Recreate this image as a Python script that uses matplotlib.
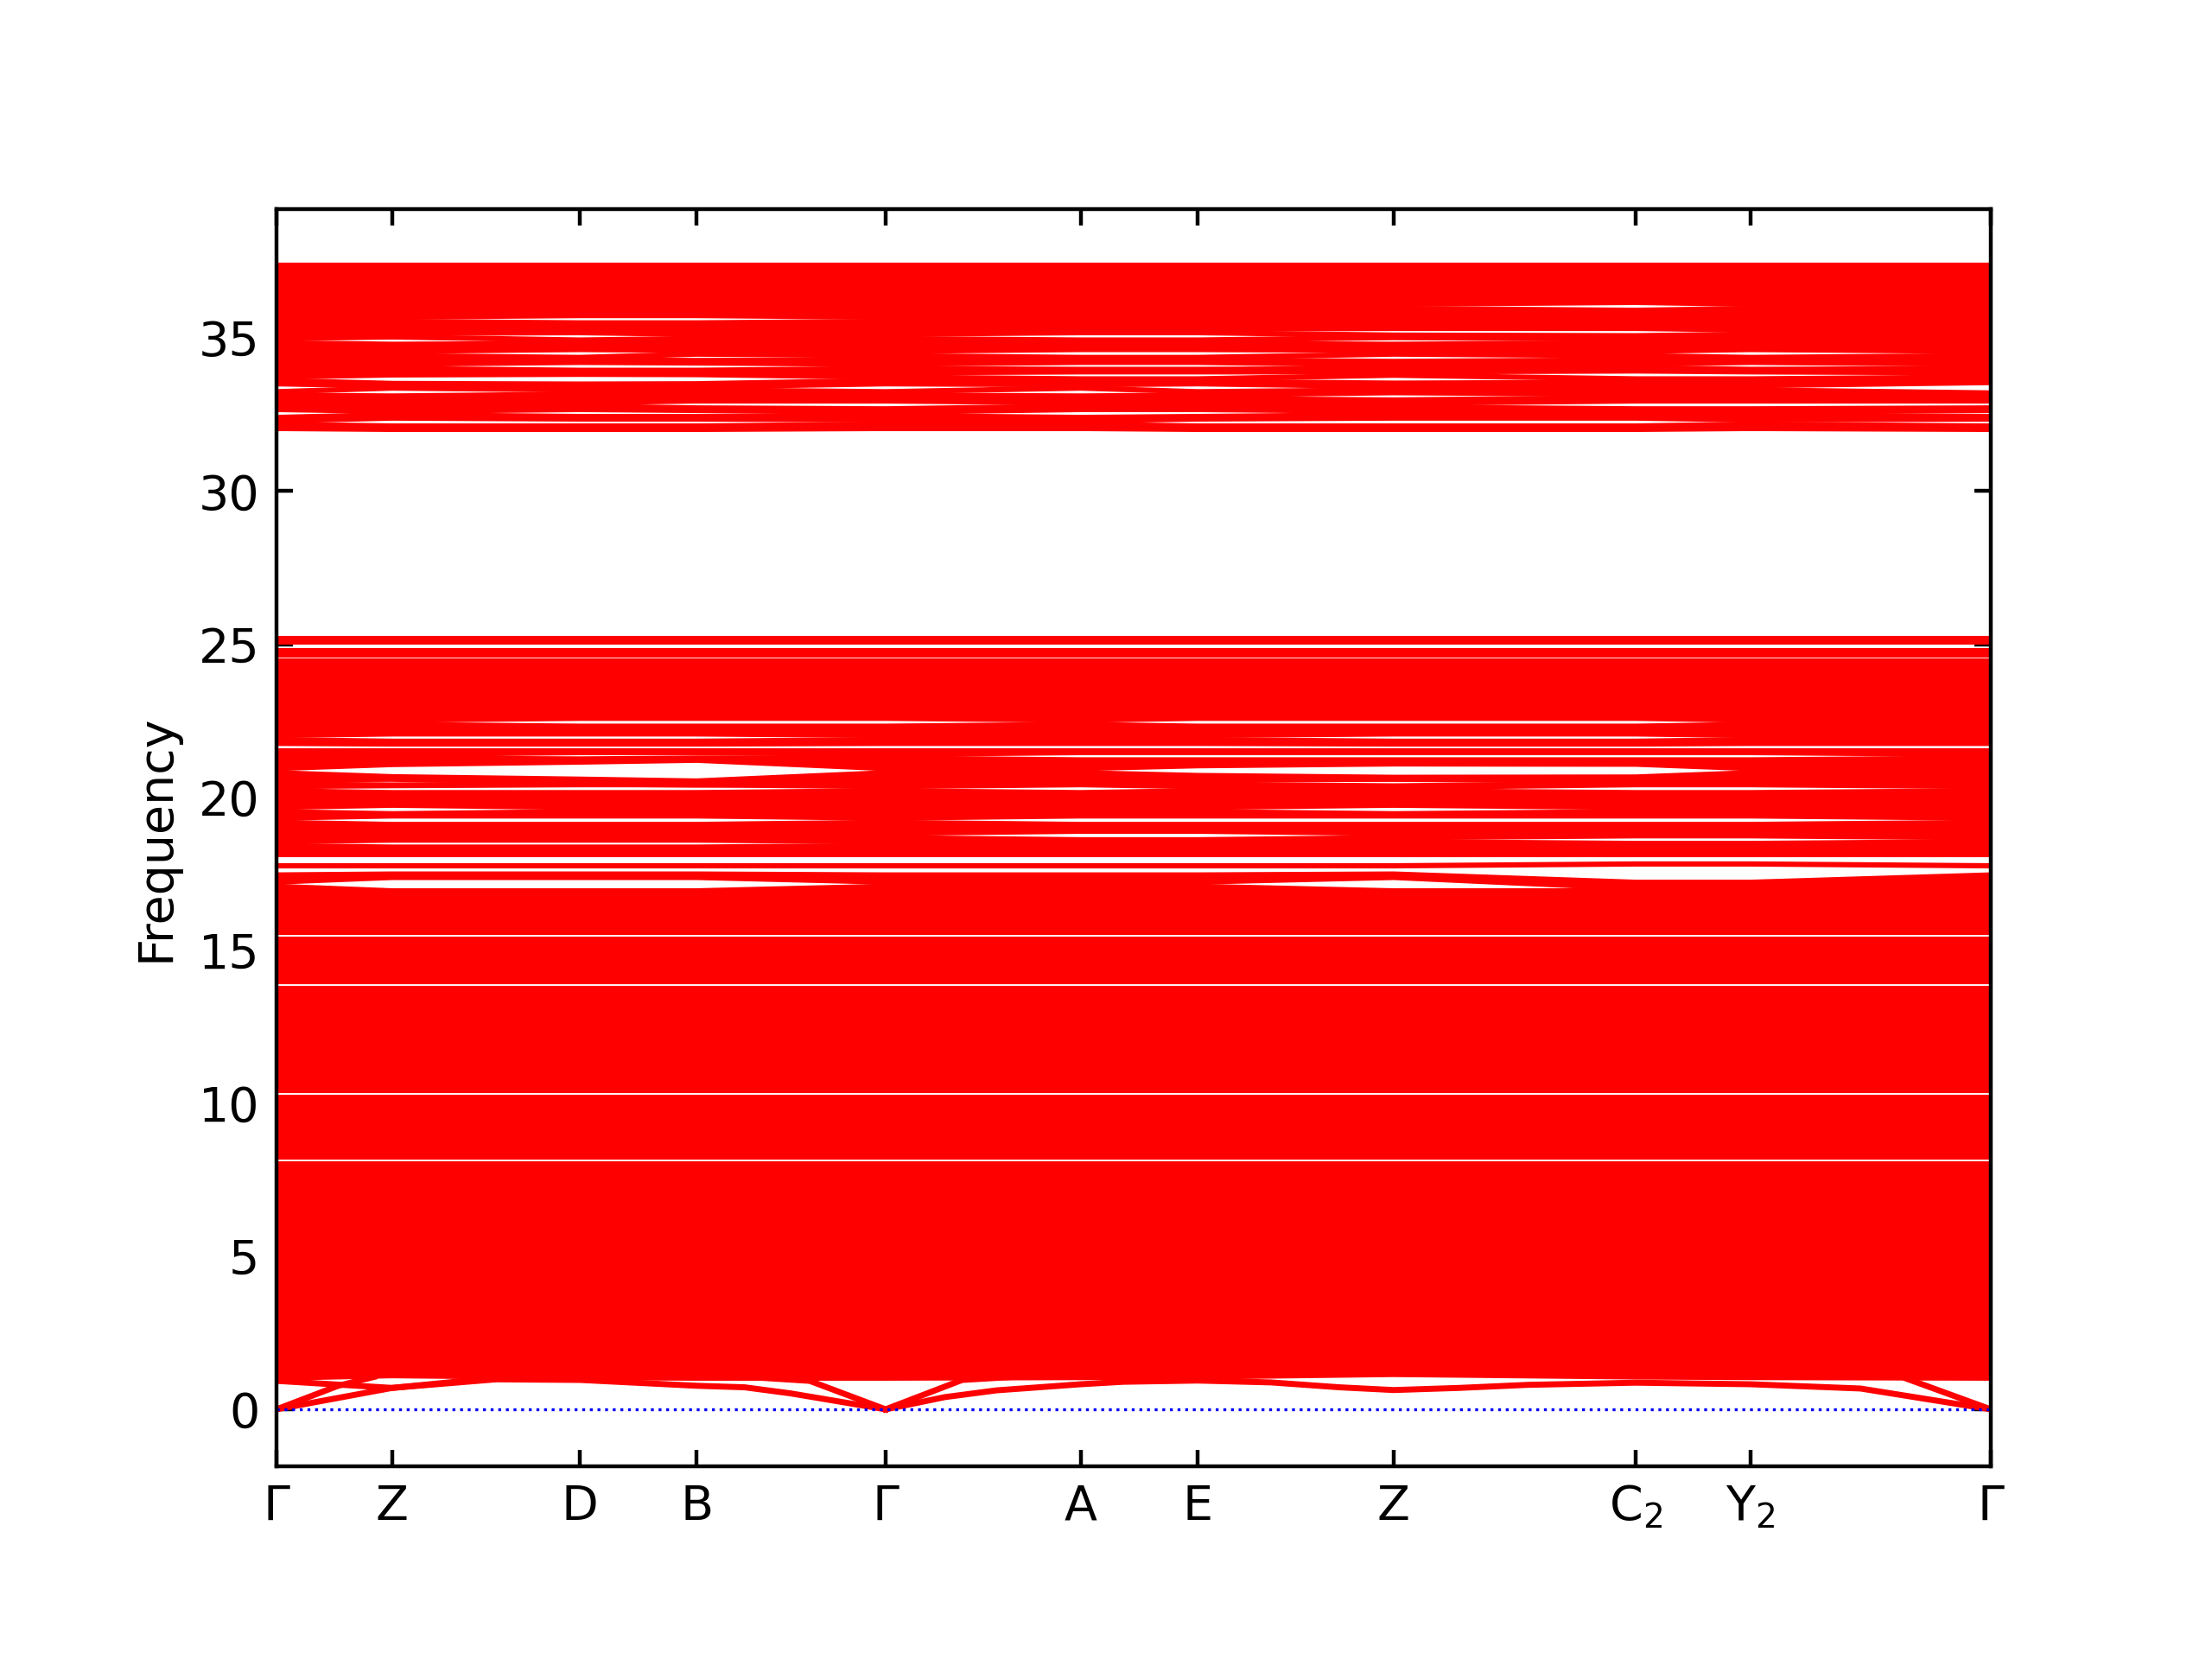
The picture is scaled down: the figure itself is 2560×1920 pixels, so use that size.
import matplotlib.pyplot as plt

# high-symmetry points along the path (fraction of total path length)
kpos = [0.0, 0.0675, 0.1769, 0.245, 0.3553, 0.4692, 0.5373, 0.6517, 0.7929, 0.8599, 1.0]
klabels = ['$\\Gamma$', 'Z', 'D', 'B', '$\\Gamma$', 'A', 'E', 'Z', 'C$_2$', 'Y$_2$', '$\\Gamma$']

# branches that look flat along the whole path
flat_bands = [
    37.37, 37.23, 37.09, 36.95, 36.81, 36.67, 36.53, 36.39,
    25.19, 25.08, 24.80, 24.66, 24.46, 24.32, 24.18, 24.04, 23.90, 23.76,
    23.62, 23.48, 23.34, 23.20, 23.06, 22.93, 22.80, 21.52, 19.95, 18.14,
    16.70, 16.56, 16.42, 16.28, 16.14, 16.00, 15.86, 15.72, 15.58, 15.36,
    15.23, 15.10, 14.96, 14.82, 14.68, 14.54, 14.40, 14.26, 14.12, 13.98,
    13.76, 13.63, 13.50, 13.36, 13.22, 13.08, 12.94, 12.80, 12.66, 12.52,
    12.38, 12.24, 12.10, 11.96, 11.82, 11.68, 11.54, 11.40, 11.26, 11.12,
    10.98, 10.84, 10.70, 10.56, 10.42, 10.18, 10.05, 9.92, 9.78, 9.64,
    9.50, 9.36, 9.22, 9.08, 8.94, 8.80, 8.66, 8.52, 8.38, 8.24, 8.02,
    7.89, 7.76, 7.62, 7.48, 7.34, 7.20, 7.06, 6.92, 6.78, 6.64, 6.50,
    6.36, 6.22, 6.08, 5.94, 5.80, 5.66, 5.52, 5.38, 5.24, 5.10, 4.96,
    4.82, 4.68, 4.54, 4.40, 4.26, 4.12, 3.98, 3.84, 3.70, 3.56, 3.42,
    3.28, 3.14, 3.00, 2.86, 2.72, 2.58, 2.44, 2.30, 2.16, 2.02, 1.88,
    1.74, 1.60, 1.46, 1.32, 1.18,
]

# upper optical block, values at each high-symmetry point
upper_bands = [
    [36.25, 36.25, 36.25, 36.25, 36.25, 36.25, 36.25, 36.25, 36.28, 36.25, 36.25],
    [36.11, 36.11, 36.11, 36.11, 36.11, 36.11, 36.11, 36.11, 36.17, 36.11, 36.11],
    [35.97, 35.97, 35.97, 35.97, 35.97, 35.97, 35.97, 35.97, 35.91, 35.97, 35.97],
    [35.83, 35.83, 35.86, 35.86, 35.83, 35.83, 35.83, 35.83, 35.80, 35.83, 35.83],
    [35.69, 35.69, 35.74, 35.74, 35.69, 35.69, 35.69, 35.69, 35.69, 35.69, 35.69],
    [35.55, 35.55, 35.50, 35.50, 35.55, 35.55, 35.55, 35.55, 35.55, 35.55, 35.55],
    [35.41, 35.41, 35.39, 35.39, 35.41, 35.41, 35.41, 35.44, 35.44, 35.41, 35.41],
    [35.27, 35.27, 35.30, 35.27, 35.27, 35.30, 35.30, 35.32, 35.32, 35.27, 35.27],
    [35.13, 35.16, 35.18, 35.13, 35.13, 35.18, 35.18, 35.10, 35.08, 35.13, 35.13],
    [34.99, 35.04, 34.94, 34.99, 34.99, 34.94, 34.94, 35.02, 34.97, 34.99, 34.99],
    [34.85, 34.80, 34.83, 34.85, 34.85, 34.83, 34.83, 34.80, 34.85, 34.85, 34.85],
    [34.71, 34.69, 34.74, 34.71, 34.71, 34.74, 34.74, 34.69, 34.71, 34.74, 34.71],
    [34.57, 34.57, 34.63, 34.60, 34.57, 34.63, 34.63, 34.60, 34.57, 34.63, 34.57],
    [34.43, 34.43, 34.37, 34.48, 34.43, 34.37, 34.37, 34.48, 34.43, 34.37, 34.43],
    [34.29, 34.29, 34.29, 34.27, 34.29, 34.29, 34.29, 34.24, 34.29, 34.29, 34.29],
    [34.15, 34.15, 34.21, 34.19, 34.15, 34.21, 34.21, 34.13, 34.15, 34.21, 34.15],
    [34.01, 34.01, 33.95, 33.95, 34.01, 33.98, 33.98, 34.01, 34.04, 33.98, 34.01],
    [33.87, 33.91, 33.89, 33.88, 33.87, 33.90, 33.90, 33.90, 33.93, 33.90, 33.87],
    [33.73, 33.80, 33.82, 33.81, 33.73, 33.67, 33.67, 33.79, 33.67, 33.67, 33.73],
    [33.62, 33.52, 33.50, 33.51, 33.62, 33.56, 33.59, 33.53, 33.56, 33.56, 33.64],
    [33.51, 33.44, 33.41, 33.41, 33.51, 33.48, 33.51, 33.42, 33.45, 33.45, 33.55],
    [33.25, 33.37, 33.31, 33.31, 33.25, 33.37, 33.25, 33.31, 33.31, 33.31, 33.21],
    [33.14, 33.11, 33.17, 33.17, 33.14, 33.11, 33.14, 33.22, 33.17, 33.17, 33.12],
    [33.03, 33.00, 33.03, 33.06, 33.06, 33.00, 33.03, 32.98, 33.06, 33.06, 33.06],
    [32.89, 32.89, 32.89, 32.95, 32.95, 32.89, 32.89, 32.87, 32.95, 32.95, 32.95],
    [32.78, 32.75, 32.78, 32.72, 32.69, 32.78, 32.78, 32.75, 32.69, 32.69, 32.72],
    [32.67, 32.61, 32.67, 32.64, 32.58, 32.67, 32.67, 32.61, 32.58, 32.58, 32.64],
    [32.41, 32.50, 32.44, 32.44, 32.47, 32.41, 32.44, 32.50, 32.50, 32.47, 32.44],
    [32.30, 32.39, 32.36, 32.36, 32.33, 32.30, 32.36, 32.39, 32.39, 32.33, 32.36],
    [32.19, 32.13, 32.13, 32.13, 32.19, 32.19, 32.13, 32.13, 32.13, 32.19, 32.13],
    [32.05, 32.02, 32.02, 32.02, 32.05, 32.05, 32.02, 32.02, 32.02, 32.05, 32.02],
]

# lower block, branches with visible dispersion
lower_bands = [
    [22.66, 22.66, 22.69, 22.69, 22.69, 22.66, 22.69, 22.69, 22.69, 22.66, 22.66],
    [22.52, 22.52, 22.58, 22.58, 22.58, 22.52, 22.58, 22.58, 22.58, 22.52, 22.52],
    [22.38, 22.38, 22.32, 22.32, 22.32, 22.38, 22.32, 22.32, 22.32, 22.38, 22.38],
    [22.25, 22.25, 22.22, 22.22, 22.22, 22.25, 22.22, 22.22, 22.22, 22.25, 22.25],
    [22.13, 22.16, 22.16, 22.16, 22.13, 22.13, 22.13, 22.16, 22.16, 22.13, 22.13],
    [22.02, 22.07, 22.07, 22.07, 22.02, 22.02, 22.02, 22.07, 22.07, 22.02, 22.02],
    [21.88, 21.83, 21.83, 21.83, 21.88, 21.88, 21.88, 21.83, 21.83, 21.88, 21.88],
    [21.76, 21.74, 21.74, 21.74, 21.76, 21.76, 21.76, 21.74, 21.74, 21.76, 21.76],
    [21.40, 21.40, 21.46, 21.46, 21.40, 21.46, 21.46, 21.46, 21.46, 21.46, 21.40],
    [21.28, 21.28, 21.25, 21.28, 21.28, 21.22, 21.22, 21.22, 21.22, 21.22, 21.28],
    [21.16, 21.20, 21.21, 21.26, 21.16, 21.13, 21.13, 21.17, 21.17, 21.13, 21.16],
    [21.05, 21.13, 21.19, 21.25, 21.05, 21.05, 21.10, 21.14, 21.14, 21.05, 21.05],
    [20.94, 21.07, 21.15, 21.21, 20.94, 20.94, 21.03, 21.09, 21.08, 20.94, 20.94],
    [20.80, 20.67, 20.59, 20.53, 20.80, 20.80, 20.71, 20.65, 20.66, 20.80, 20.80],
    [20.66, 20.61, 20.52, 20.46, 20.66, 20.66, 20.61, 20.60, 20.57, 20.66, 20.66],
    [20.57, 20.59, 20.49, 20.44, 20.57, 20.57, 20.57, 20.59, 20.53, 20.57, 20.57],
    [20.43, 20.40, 20.43, 20.40, 20.43, 20.46, 20.43, 20.37, 20.46, 20.46, 20.43],
    [20.35, 20.38, 20.41, 20.41, 20.35, 20.41, 20.35, 20.32, 20.41, 20.41, 20.35],
    [20.21, 20.15, 20.15, 20.15, 20.21, 20.15, 20.21, 20.21, 20.15, 20.15, 20.21],
    [20.08, 20.05, 20.05, 20.05, 20.08, 20.05, 20.08, 20.08, 20.05, 20.05, 20.08],
    [19.82, 19.85, 19.82, 19.82, 19.82, 19.82, 19.82, 19.85, 19.82, 19.82, 19.82],
    [19.67, 19.74, 19.67, 19.67, 19.67, 19.67, 19.67, 19.74, 19.67, 19.67, 19.67],
    [19.53, 19.46, 19.53, 19.53, 19.53, 19.53, 19.53, 19.46, 19.53, 19.53, 19.53],
    [19.42, 19.42, 19.46, 19.46, 19.42, 19.46, 19.46, 19.42, 19.46, 19.46, 19.42],
    [19.32, 19.39, 19.39, 19.39, 19.32, 19.39, 19.39, 19.39, 19.39, 19.39, 19.32],
    [19.18, 19.11, 19.11, 19.11, 19.18, 19.11, 19.11, 19.11, 19.11, 19.11, 19.18],
    [19.05, 19.02, 19.02, 19.02, 19.05, 19.02, 19.02, 19.02, 19.02, 19.02, 19.05],
    [18.92, 18.92, 18.92, 18.92, 18.92, 18.96, 18.96, 18.92, 18.92, 18.92, 18.92],
    [18.82, 18.82, 18.82, 18.82, 18.82, 18.89, 18.89, 18.82, 18.85, 18.85, 18.82],
    [18.68, 18.71, 18.71, 18.71, 18.68, 18.61, 18.61, 18.68, 18.74, 18.74, 18.68],
    [18.55, 18.60, 18.60, 18.60, 18.55, 18.52, 18.52, 18.55, 18.49, 18.49, 18.55],
    [18.42, 18.37, 18.37, 18.37, 18.42, 18.42, 18.42, 18.42, 18.39, 18.39, 18.42],
    [18.28, 18.26, 18.26, 18.26, 18.28, 18.28, 18.28, 18.28, 18.28, 18.28, 18.28],
    [17.76, 17.76, 17.76, 17.76, 17.76, 17.76, 17.76, 17.76, 17.82, 17.82, 17.76],
    [17.46, 17.49, 17.49, 17.49, 17.46, 17.46, 17.46, 17.49, 17.22, 17.22, 17.46],
    [17.35, 17.43, 17.43, 17.43, 17.35, 17.35, 17.35, 17.43, 17.12, 17.12, 17.35],
    [17.23, 17.38, 17.38, 17.38, 17.23, 17.23, 17.23, 17.38, 17.02, 17.02, 17.23],
    [17.09, 16.94, 16.94, 16.94, 17.09, 17.09, 17.09, 16.94, 16.94, 16.94, 17.09],
    [16.96, 16.88, 16.88, 16.88, 16.96, 16.96, 16.96, 16.88, 16.87, 16.87, 16.96],
    [16.83, 16.80, 16.80, 16.80, 16.83, 16.83, 16.83, 16.80, 16.80, 16.80, 16.83],
    [1.02, 1.10, 1.04, 1.02, 1.02, 1.04, 1.06, 1.14, 1.06, 1.04, 1.02],
]

# acoustic / lowest branches, read as (k, freq) points
acoustic_k = [
    [0.0, 0.036, 0.057],
    [0.0, 0.0675, 0.128, 0.177, 0.245, 0.273, 0.30, 0.3553],
    [0.0, 0.0675, 0.128],
    [0.28, 0.311, 0.3553],
    [0.3553, 0.40, 0.43],
    [0.3553, 0.39, 0.42, 0.4692, 0.494, 0.5373, 0.58, 0.62, 0.6517, 0.69, 0.73,
     0.7929, 0.8599, 0.924, 1.0],
    [0.95, 1.0],
]
acoustic_f = [
    [0.0, 0.77, 1.06],
    [0.0, 0.70, 0.98, 0.96, 0.77, 0.72, 0.52, 0.0],
    [0.93, 0.70, 1.03],
    [1.04, 0.93, 0.0],
    [0.0, 0.96, 1.06],
    [0.0, 0.40, 0.62, 0.82, 0.90, 0.94, 0.88, 0.72, 0.63, 0.70, 0.80,
     0.87, 0.82, 0.68, 0.0],
    [1.02, 0.0],
]

fig = plt.figure(figsize=(6.4, 4.8), dpi=400)
ax = fig.add_axes([0.125, 0.116, 0.775, 0.758])

ax.hlines(flat_bands, kpos[0], kpos[-1], colors='r', linewidth=1.1)
for row in upper_bands + lower_bands:
    ax.plot(kpos, row, color='r', linewidth=1.1)
for ks, fs in zip(acoustic_k, acoustic_f):
    ax.plot(ks, fs, color='r', linewidth=1.25)

ax.axhline(0, color='b', linestyle=':', linewidth=0.6)

ax.set_xlim(kpos[0], kpos[-1])
ax.set_ylim(-1.87, 39.22)
ax.set_xticks(kpos)
ax.set_xticklabels(klabels)
ax.set_ylabel('Frequency')
ax.tick_params(direction='in', top=True, right=True)

fig.savefig('out.png', dpi=400)
